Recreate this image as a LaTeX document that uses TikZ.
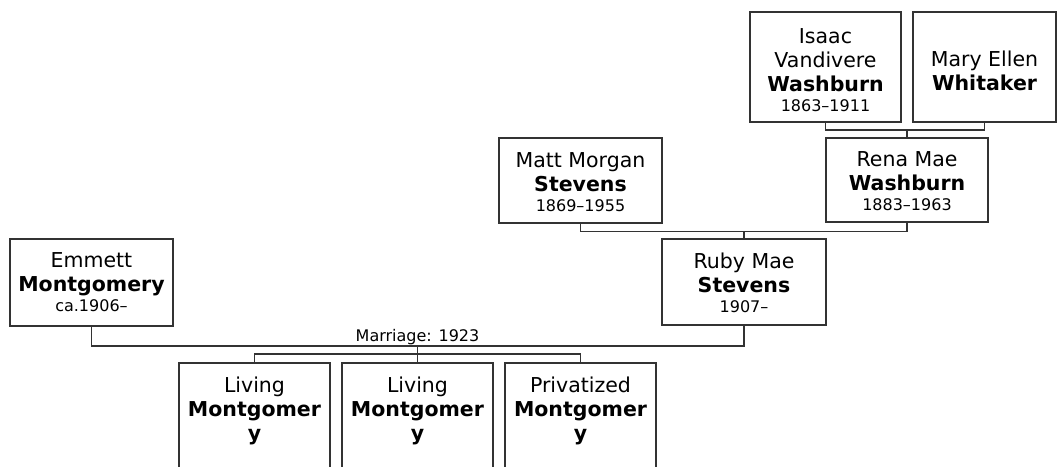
\documentclass[tikz,border=0pt]{standalone}
\usepackage{fontspec}
\setmainfont{DejaVu Sans}
\newcommand\pdates[1]{{\fontsize{16}{20}\selectfont #1}}
\begin{document}
\begin{tikzpicture}[x=1pt,y=-1pt,
  conn/.style={draw=black!80, line width=1.4pt},
  person/.style={draw=black!80, line width=1.5pt, align=center, inner sep=0pt,
    font=\fontsize{20.5}{24}\selectfont},
  child/.style={person, minimum width=151, anchor=north, inner ysep=14pt},
  small/.style={font=\fontsize{16}{20}\selectfont, inner sep=0pt}
]
\clip (0,0) rectangle (1057,466);
\fill[white] (0,0) rectangle (1057,466);
% people
\node[person, minimum width=151, minimum height=110] (isaac) at (825.5,67)
  {\rule{0pt}{21pt}Isaac\\Vandivere\\\textbf{Washburn}\\[-4pt]\pdates{1863–1911}};
\node[person, minimum width=143, minimum height=110] (mary) at (984.5,67)
  {\rule{0pt}{24pt}Mary Ellen\\\textbf{Whitaker}};
\node[person, minimum width=162, minimum height=84] (rena) at (907,180)
  {\rule{0pt}{18pt}Rena Mae\\\textbf{Washburn}\\[-4pt]\pdates{1883–1963}};
\node[person, minimum width=163, minimum height=85] (matt) at (580.5,180.5)
  {\rule{0pt}{18pt}Matt Morgan\\\textbf{Stevens}\\[-4pt]\pdates{1869–1955}};
\node[person, minimum width=164, minimum height=86] (ruby) at (744,282)
  {\rule{0pt}{18pt}Ruby Mae\\\textbf{Stevens}\\[-4pt]\pdates{1907–}};
\node[person, minimum width=163, minimum height=87] (emmett) at (91.5,282.5)
  {Emmett\\\textbf{Montgomery}\\[-4pt]\pdates{ca.1906–}};
% children
\node[child] (c1) at (254.5,362) {Living\\\textbf{Montgomer}\\\textbf{y}\\\rule{0pt}{60pt}};
\node[child] (c2) at (417.5,362) {Living\\\textbf{Montgomer}\\\textbf{y}\\\rule{0pt}{60pt}};
\node[child] (c3) at (580.5,362) {Privatized\\\textbf{Montgomer}\\\textbf{y}\\\rule{0pt}{60pt}};
% junctions
\coordinate (j1) at (907,130);
\coordinate (j2) at (744,231.5);
\coordinate (j3) at (417.5,346);
\coordinate (j4) at (417.5,354);
% connectors
\draw[conn] (isaac.south) |- (j1) -| (mary.south);
\draw[conn] (j1) -- (rena.north);
\draw[conn] (matt.south) |- (j2) -| (rena.south);
\draw[conn] (j2) -- (ruby.north);
\draw[conn] (emmett.south) |- (j3) -| (ruby.south);
\node[small, anchor=base] (marr) at (417.5,341) {Marriage: 1923};
\draw[conn] (j3) -- (j4);
\draw[conn] (c1.north) |- (j4) -| (c3.north);
\draw[conn] (j4) -- (c2.north);
\end{tikzpicture}
\end{document}
